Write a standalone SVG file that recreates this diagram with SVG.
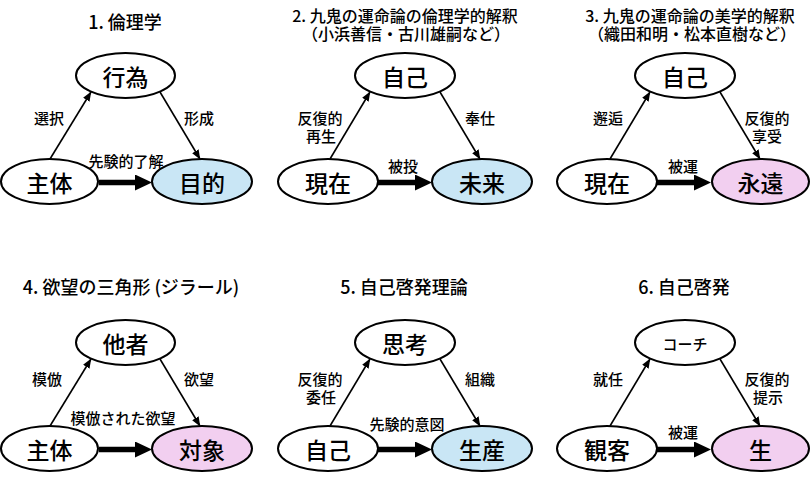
<svg xmlns="http://www.w3.org/2000/svg" width="810" height="479" viewBox="0 0 810 479">
<defs>
<style>
text{font-family:"Noto Sans CJK JP","Noto Sans CJK SC",sans-serif;fill:#000;text-anchor:middle;dominant-baseline:central}
.title{font-size:18px;font-weight:500}
.title2{font-size:16px;font-weight:500}
.node{font-size:23px;font-weight:500}
.small{font-size:15px;font-weight:500}
.lbl{font-size:15px;font-weight:500}
ellipse{stroke:#000;stroke-width:2;fill:#fff}
ellipse.blue{fill:#c9e6f5}
ellipse.pink{fill:#f2cff0}
.thin{stroke:#000;stroke-width:1.6;fill:none;marker-end:url(#ah)}
.thick{stroke:#000;stroke-width:5.5;fill:none;marker-end:url(#ahb)}
</style>
<marker id="ah" markerUnits="userSpaceOnUse" markerWidth="10" markerHeight="8" refX="9" refY="3.75" orient="auto">
<path d="M0,0 L9.5,3.75 L0,7.5 z" fill="#000"/>
</marker>
<marker id="ahb" markerUnits="userSpaceOnUse" markerWidth="18" markerHeight="17" refX="0" refY="8" orient="auto">
<path d="M0,0 L17,8 L0,16 z" fill="#000"/>
</marker>
</defs>

<!-- titles -->
<g id="titles">
<text class="title" x="125" y="21">1. 倫理学</text>
<text class="title2" x="405" y="14.5">2. 九鬼の運命論の倫理学的解釈</text>
<text class="title2" x="406" y="33">（小浜善信・古川雄嗣など）</text>
<text class="title2" x="690" y="14.5">3. 九鬼の運命論の美学的解釈</text>
<text class="title2" x="692" y="33">（織田和明・松本直樹など）</text>
<text class="title" x="131" y="286">4. 欲望の三角形 (ジラール)</text>
<text class="title" x="404" y="286">5. 自己啓発理論</text>
<text class="title" x="684" y="286">6. 自己啓発</text>
</g>

<!-- connectors -->
<g id="connectors">
<line class="thin" x1="50" y1="159" x2="91" y2="92"/>
<line class="thin" x1="160" y1="92" x2="200" y2="159"/>
<line class="thick" x1="99" y1="182.5" x2="135" y2="182.5"/>

<line class="thin" x1="330" y1="159" x2="370" y2="92"/>
<line class="thin" x1="440" y1="92" x2="480" y2="159"/>
<line class="thick" x1="378" y1="182.5" x2="415" y2="182.5"/>

<line class="thin" x1="610" y1="159" x2="650" y2="92"/>
<line class="thin" x1="720" y1="92" x2="760" y2="159"/>
<line class="thick" x1="657" y1="182.5" x2="694" y2="182.5"/>

<line class="thin" x1="50" y1="426" x2="91" y2="359"/>
<line class="thin" x1="160" y1="359" x2="200" y2="426"/>
<line class="thick" x1="99" y1="449.5" x2="135" y2="449.5"/>

<line class="thin" x1="330" y1="426" x2="370" y2="359"/>
<line class="thin" x1="440" y1="359" x2="480" y2="426"/>
<line class="thick" x1="378" y1="449.5" x2="415" y2="449.5"/>

<line class="thin" x1="610" y1="426" x2="650" y2="359"/>
<line class="thin" x1="720" y1="359" x2="760" y2="426"/>
<line class="thick" x1="657" y1="449.5" x2="694" y2="449.5"/>
</g>

<!-- edge labels -->
<g id="labels">
<text class="lbl" x="49" y="117">選択</text>
<text class="lbl" x="199" y="117">形成</text>
<text class="lbl" x="126" y="160">先験的了解</text>

<text class="lbl" x="320" y="117">反復的</text>
<text class="lbl" x="321" y="135">再生</text>
<text class="lbl" x="480" y="117">奉仕</text>
<text class="lbl" x="403" y="165">被投</text>

<text class="lbl" x="608" y="117">邂逅</text>
<text class="lbl" x="767" y="117">反復的</text>
<text class="lbl" x="767" y="135">享受</text>
<text class="lbl" x="683" y="165">被運</text>

<text class="lbl" x="47" y="378">模倣</text>
<text class="lbl" x="199" y="378">欲望</text>
<text class="lbl" x="123" y="417">模倣された欲望</text>

<text class="lbl" x="320" y="378">反復的</text>
<text class="lbl" x="321" y="396">委任</text>
<text class="lbl" x="480" y="378">組織</text>
<text class="lbl" x="407" y="423">先験的意図</text>

<text class="lbl" x="608" y="378">就任</text>
<text class="lbl" x="767" y="378">反復的</text>
<text class="lbl" x="768" y="396">提示</text>
<text class="lbl" x="683" y="431">被運</text>
</g>

<!-- panel 1 -->
<g id="p1-koui"><ellipse cx="125.5" cy="75.5" rx="49.5" ry="22.5"/><text class="node" x="125.5" y="76">行為</text></g>
<g id="p1-shutai"><ellipse cx="49.5" cy="181.5" rx="48.5" ry="22.5"/><text class="node" x="49.5" y="182">主体</text></g>
<g id="p1-mokuteki"><ellipse class="blue" cx="202" cy="181.5" rx="50" ry="22.5"/><text class="node" x="202" y="182">目的</text></g>

<!-- panel 2 -->
<g id="p2-jiko"><ellipse cx="405" cy="75.5" rx="50" ry="22.5"/><text class="node" x="405" y="76">自己</text></g>
<g id="p2-genzai"><ellipse cx="328" cy="181.5" rx="50" ry="22.5"/><text class="node" x="328" y="182">現在</text></g>
<g id="p2-mirai"><ellipse class="blue" cx="482" cy="181.5" rx="50" ry="22.5"/><text class="node" x="482" y="182">未来</text></g>

<!-- panel 3 -->
<g id="p3-jiko"><ellipse cx="685" cy="75.5" rx="50" ry="22.5"/><text class="node" x="685" y="76">自己</text></g>
<g id="p3-genzai"><ellipse cx="607" cy="181.5" rx="50" ry="22.5"/><text class="node" x="607" y="182">現在</text></g>
<g id="p3-eien"><ellipse class="pink" cx="760.5" cy="181.5" rx="48.5" ry="22.5"/><text class="node" x="760.5" y="182">永遠</text></g>

<!-- panel 4 -->
<g id="p4-tasha"><ellipse cx="125.5" cy="342.5" rx="49.5" ry="22.5"/><text class="node" x="125.5" y="343">他者</text></g>
<g id="p4-shutai"><ellipse cx="49.5" cy="448.5" rx="48.5" ry="22.5"/><text class="node" x="49.5" y="449">主体</text></g>
<g id="p4-taishou"><ellipse class="pink" cx="202" cy="448.5" rx="50" ry="22.5"/><text class="node" x="202" y="449">対象</text></g>

<!-- panel 5 -->
<g id="p5-shikou"><ellipse cx="405" cy="342.5" rx="50" ry="22.5"/><text class="node" x="405" y="343">思考</text></g>
<g id="p5-jiko"><ellipse cx="328" cy="448.5" rx="50" ry="22.5"/><text class="node" x="328" y="449">自己</text></g>
<g id="p5-seisan"><ellipse class="blue" cx="482" cy="448.5" rx="50" ry="22.5"/><text class="node" x="482" y="449">生産</text></g>

<!-- panel 6 -->
<g id="p6-coach"><ellipse cx="685" cy="342.5" rx="50" ry="22.5"/><text class="small" x="685" y="343">コーチ</text></g>
<g id="p6-kankyaku"><ellipse cx="607" cy="448.5" rx="50" ry="22.5"/><text class="node" x="607" y="449">観客</text></g>
<g id="p6-sei"><ellipse class="pink" cx="760.5" cy="448.5" rx="48.5" ry="22.5"/><text class="node" x="760.5" y="449">生</text></g>
</svg>
